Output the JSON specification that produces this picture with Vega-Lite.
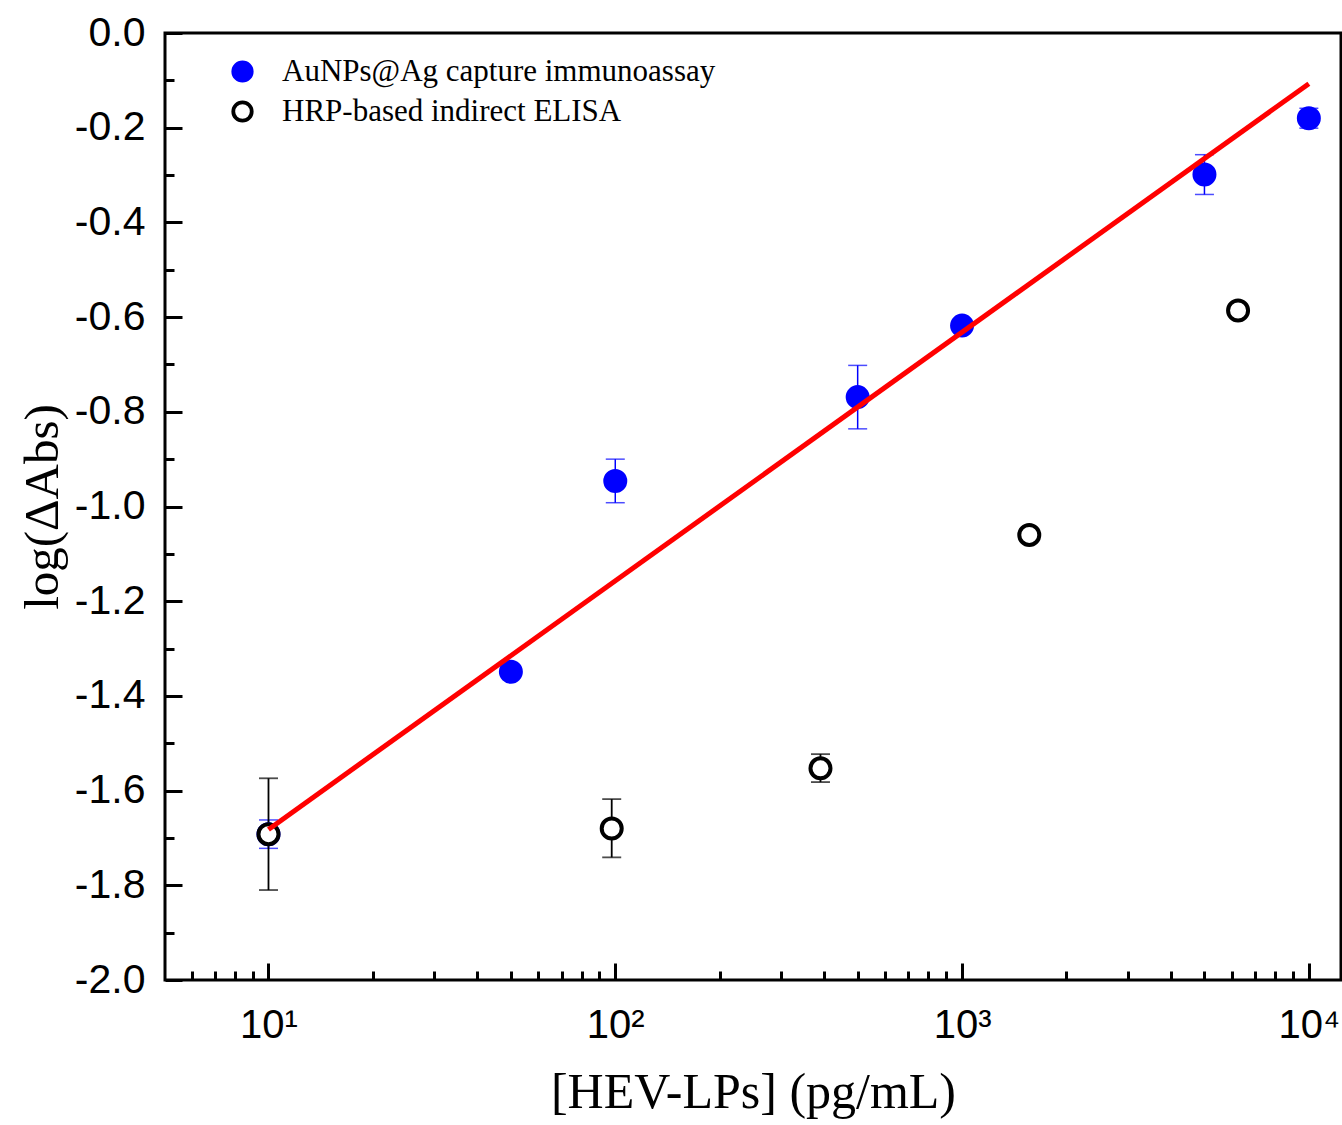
{
  "$schema": "https://vega.github.io/schema/vega-lite/v6.json",
  "autosize": {"type": "none"},
  "padding": {"left": 165, "top": 33, "right": 1, "bottom": 145},
  "width": 1176,
  "height": 947,
  "background": "white",
  "config": {
    "view": {"stroke": "black", "strokeWidth": 3},
    "axis": {"domain": false, "grid": false, "labelFlush": false, "labelOverlap": false, "labelBound": false, "tickColor": "black", "tickWidth": 3, "labelColor": "black", "titleColor": "black", "zindex": 1}
  },
  "datasets": {
    "pts": [
      {"series": "AuNPs@Ag capture immunoassay", "conc": 10, "val": -1.692, "lo": -1.722, "hi": -1.662},
      {"series": "AuNPs@Ag capture immunoassay", "conc": 50, "val": -1.349, "lo": -1.359, "hi": -1.339},
      {"series": "AuNPs@Ag capture immunoassay", "conc": 100, "val": -0.946, "lo": -0.992, "hi": -0.900},
      {"series": "AuNPs@Ag capture immunoassay", "conc": 500, "val": -0.769, "lo": -0.836, "hi": -0.702},
      {"series": "AuNPs@Ag capture immunoassay", "conc": 1000, "val": -0.618, "lo": -0.628, "hi": -0.608},
      {"series": "AuNPs@Ag capture immunoassay", "conc": 5000, "val": -0.299, "lo": -0.341, "hi": -0.257},
      {"series": "AuNPs@Ag capture immunoassay", "conc": 10000, "val": -0.180, "lo": -0.201, "hi": -0.159},
      {"series": "HRP-based indirect ELISA", "conc": 10, "val": -1.692, "lo": -1.810, "hi": -1.574},
      {"series": "HRP-based indirect ELISA", "conc": 97.66, "val": -1.680, "lo": -1.741, "hi": -1.618},
      {"series": "HRP-based indirect ELISA", "conc": 390.6, "val": -1.553, "lo": -1.582, "hi": -1.523},
      {"series": "HRP-based indirect ELISA", "conc": 1562.5, "val": -1.060, "lo": -1.066, "hi": -1.054},
      {"series": "HRP-based indirect ELISA", "conc": 6250, "val": -0.586, "lo": -0.594, "hi": -0.578}
    ],
    "fit": [
      {"conc": 10, "val": -1.682},
      {"conc": 10000, "val": -0.107}
    ]
  },
  "layer": [
    {
      "data": {"name": "pts"},
      "transform": [{"filter": "datum.series === 'AuNPs@Ag capture immunoassay'"}],
      "mark": {"type": "errorbar", "color": "#0000ff", "thickness": 1.5, "ticks": {"size": 19, "thickness": 1.5, "color": "#0000ff"}},
      "encoding": {
        "x": {"field": "conc", "type": "quantitative", "scale": {"type": "log", "domain": [5.03, 12380], "nice": false}, "axis": null},
        "y": {"field": "lo", "type": "quantitative", "scale": {"domain": [-2, 0], "nice": false, "zero": false}, "axis": null},
        "y2": {"field": "hi"}
      }
    },
    {
      "data": {"name": "pts"},
      "transform": [{"filter": "datum.series === 'HRP-based indirect ELISA'"}],
      "mark": {"type": "errorbar", "color": "#000000", "thickness": 1.8, "ticks": {"size": 19, "thickness": 1.8, "color": "#000000"}},
      "encoding": {
        "x": {"field": "conc", "type": "quantitative", "axis": null},
        "y": {"field": "lo", "type": "quantitative", "axis": null},
        "y2": {"field": "hi"}
      }
    },
    {
      "data": {"name": "pts"},
      "mark": {"type": "point", "shape": "circle", "size": 400, "strokeWidth": 4, "opacity": 1, "fillOpacity": 1, "strokeOpacity": 1},
      "encoding": {
        "x": {
          "field": "conc", "type": "quantitative",
          "axis": {
            "orient": "bottom",
            "values": [10, 100, 1000, 10000],
            "labelExpr": "'10' + (datum.value < 50 ? '¹' : datum.value < 500 ? '²' : datum.value < 5000 ? '³' : '⁴')",
            "tickSize": -17,
            "labelPadding": 42,
            "labelFont": "Liberation Sans",
            "labelFontSize": 40,
            "title": "[HEV-LPs] (pg/mL)",
            "titleFont": "Liberation Serif",
            "titleFontSize": 50,
            "titleFontWeight": "normal",
            "titleX": 588,
            "titleY": 127,
            "titleAlign": "center",
            "titleBaseline": "alphabetic"
          }
        },
        "y": {
          "field": "val", "type": "quantitative",
          "axis": {
            "orient": "left",
            "values": [-2, -1.8, -1.6, -1.4, -1.2, -1, -0.8, -0.6, -0.4, -0.2, 0],
            "labelExpr": "replace(format(datum.value, '.1f'), '−', '-')",
            "tickSize": -17,
            "labelPadding": 37,
            "labelFont": "Liberation Sans",
            "labelFontSize": 41,
            "title": "log(ΔAbs)",
            "titleFont": "Liberation Serif",
            "titleFontSize": 49,
            "titleFontWeight": "normal",
            "titleX": -123,
            "titleY": 473.5,
            "titleAngle": 270,
            "titleAlign": "center",
            "titleBaseline": "middle"
          }
        },
        "fill": {
          "field": "series", "type": "nominal",
          "scale": {"domain": ["AuNPs@Ag capture immunoassay", "HRP-based indirect ELISA"], "range": ["#0000ff", "#ffffff"]},
          "legend": {
            "title": null, "orient": "none", "legendX": 62, "legendY": 23, "padding": 0,
            "labelFont": "Liberation Serif", "labelFontSize": 31, "labelColor": "black",
            "labelOffset": 24, "rowPadding": 5, "symbolSize": 340, "symbolStrokeWidth": 3.8, "labelLimit": 800
          }
        },
        "stroke": {
          "field": "series", "type": "nominal",
          "scale": {"domain": ["AuNPs@Ag capture immunoassay", "HRP-based indirect ELISA"], "range": ["#0000ff", "#000000"]},
          "legend": {
            "title": null, "orient": "none", "legendX": 62, "legendY": 23, "padding": 0,
            "labelFont": "Liberation Serif", "labelFontSize": 31, "labelColor": "black",
            "labelOffset": 24, "rowPadding": 5, "symbolSize": 340, "symbolStrokeWidth": 3.8, "labelLimit": 800
          }
        }
      }
    },
    {
      "data": {"name": "fit"},
      "mark": {"type": "line", "color": "#ff0000", "strokeWidth": 5},
      "encoding": {
        "x": {"field": "conc", "type": "quantitative", "axis": null},
        "y": {"field": "val", "type": "quantitative", "axis": null}
      }
    },
    {
      "data": {"name": "fit"},
      "mark": {"type": "point", "opacity": 0},
      "encoding": {
        "x": {
          "field": "conc", "type": "quantitative",
          "axis": {"orient": "bottom", "values": [6, 7, 8, 9, 20, 30, 40, 50, 60, 70, 80, 90, 200, 300, 400, 500, 600, 700, 800, 900, 2000, 3000, 4000, 5000, 6000, 7000, 8000, 9000], "tickSize": -9, "labels": false, "title": null}
        },
        "y": {
          "field": "val", "type": "quantitative",
          "axis": {"orient": "left", "values": [-1.9, -1.7, -1.5, -1.3, -1.1, -0.9, -0.7, -0.5, -0.3, -0.1], "tickSize": -9, "labels": false, "title": null}
        }
      }
    }
  ],
  "resolve": {"axis": {"x": "independent", "y": "independent"}}
}
